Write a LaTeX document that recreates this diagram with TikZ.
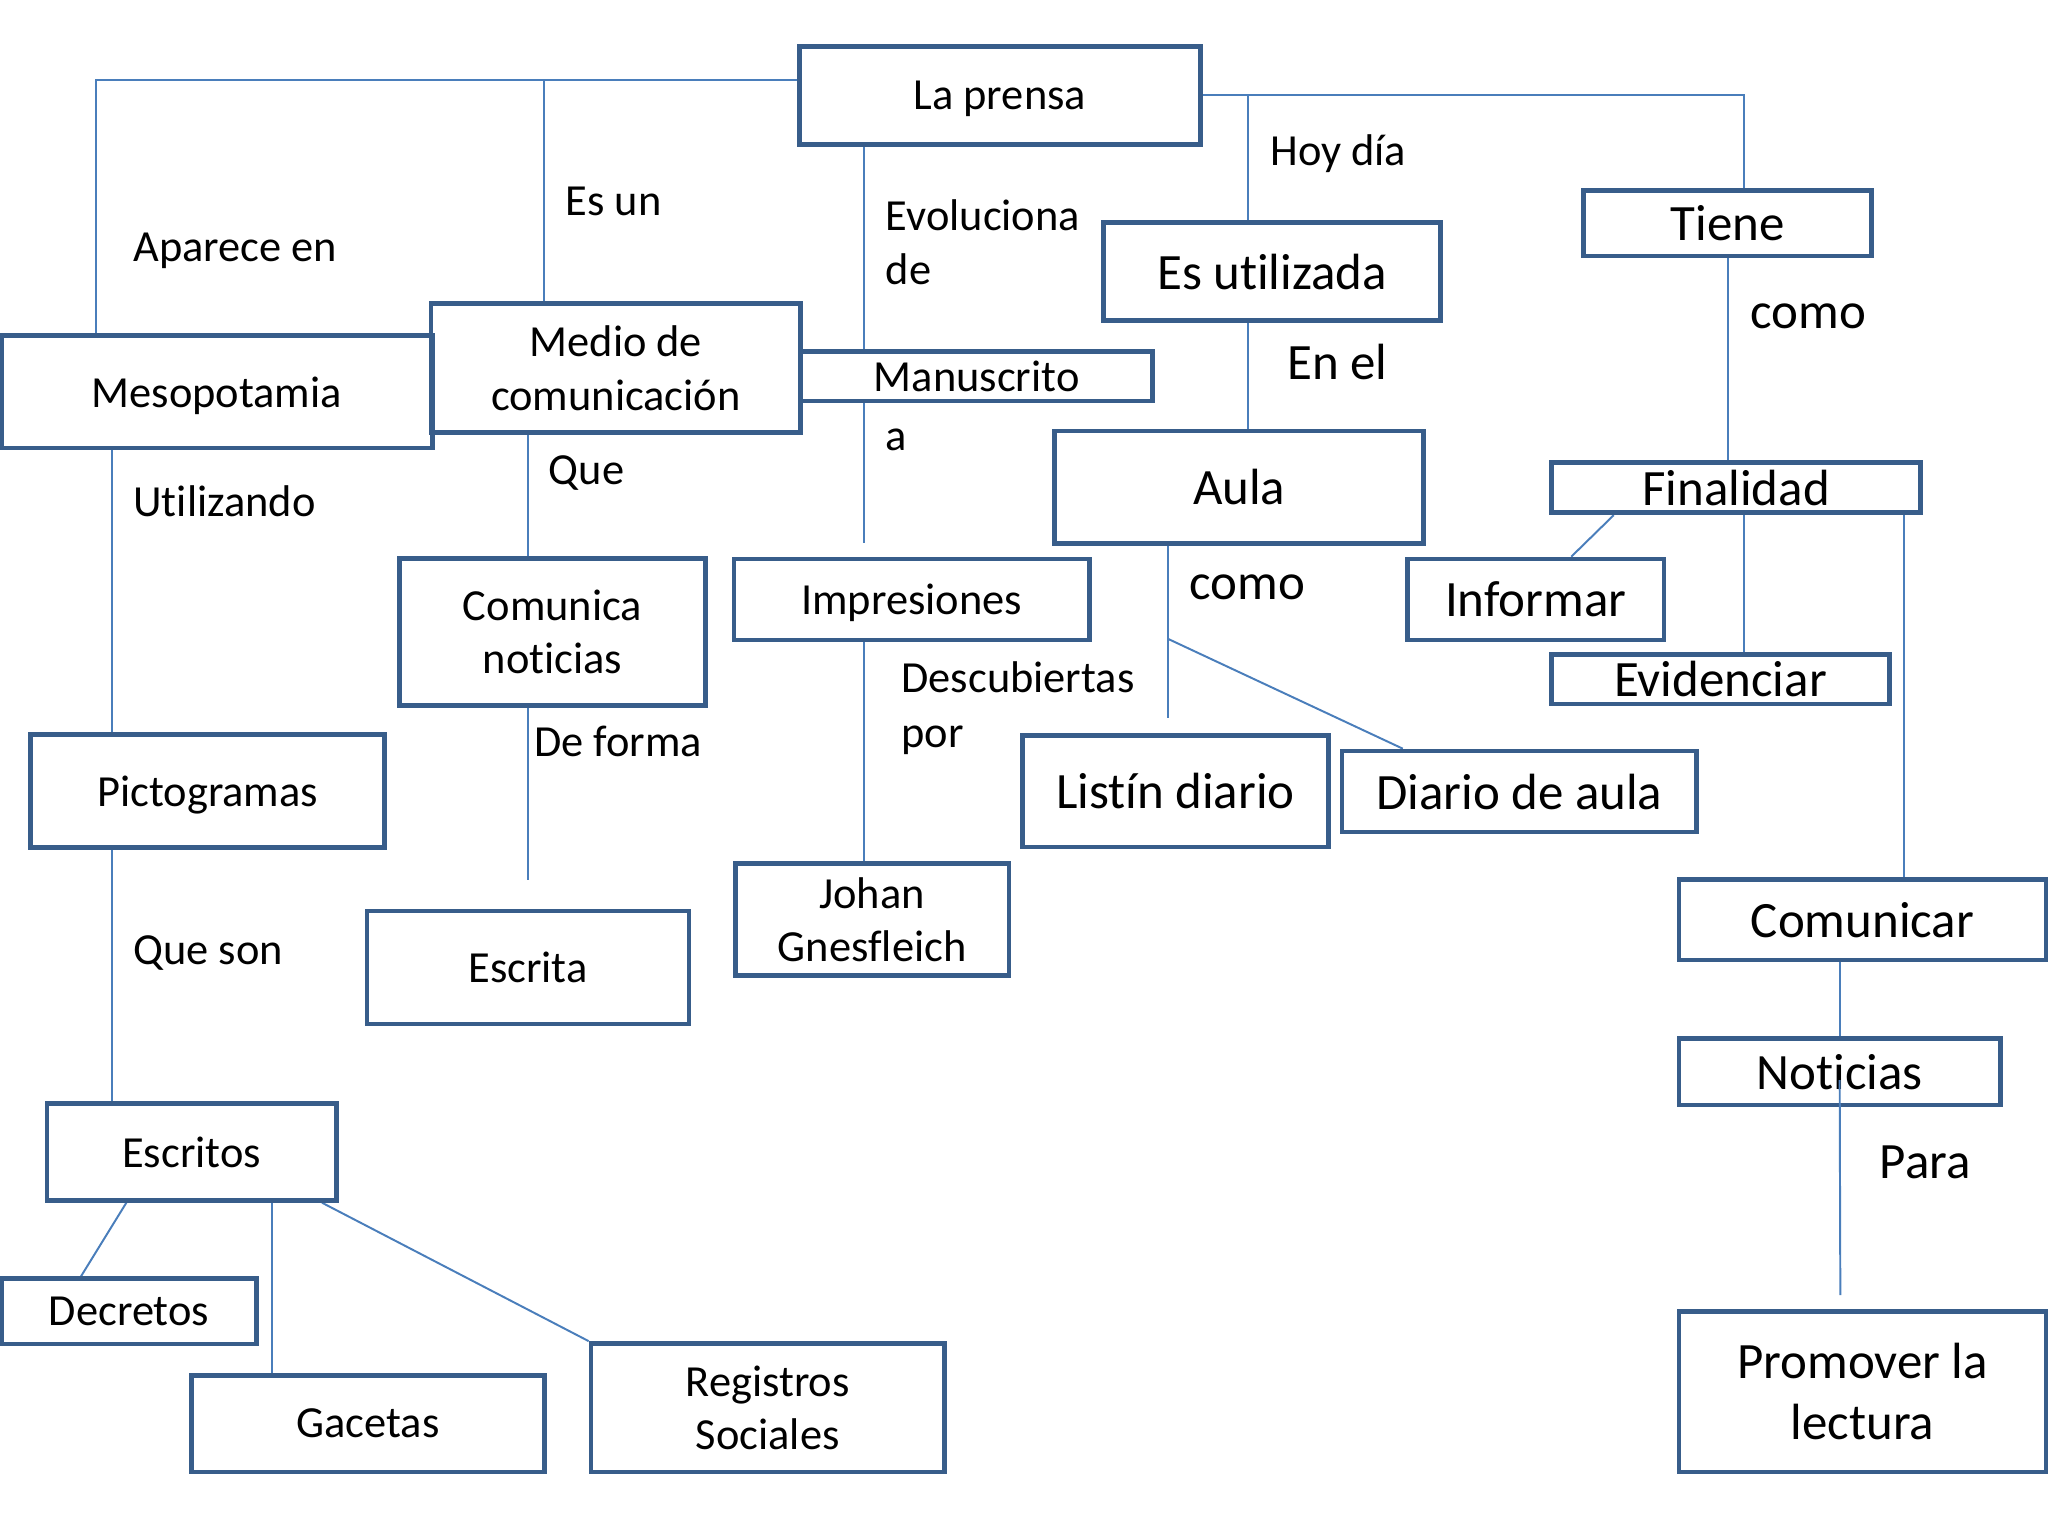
\documentclass[tikz,border=0pt]{standalone}
\usepackage{fontspec}
\setmainfont{Carlito}[Ligatures={NoCommon,NoContextual,NoRequired}, RawFeature={-liga;-calt;-clig}]
\usetikzlibrary{positioning}
\definecolor{boxblue}{HTML}{385D8A}
\definecolor{lineblue}{HTML}{4A7EBB}
\pgfdeclarelayer{bg}
\pgfsetlayers{bg,main}

\begin{document}
\begin{tikzpicture}[
                x=1pt, y=-1pt,
                box/.style={draw=boxblue, line width=3.6pt, inner sep=0pt, align=center, font=\fontsize{34}{41}\selectfont},
                bigbox/.style={box, font=\fontsize{39}{47}\selectfont},
                nodepth/.style={text depth=0pt},
                lbl/.style={inner sep=0pt, anchor=west, align=left, font=\fontsize{34}{42}\selectfont},
                biglbl/.style={lbl, font=\fontsize{39}{47}\selectfont},
                link/.style={draw=lineblue, line width=1.5pt}
            ]
                \useasboundingbox (0,0) rectangle (1568,1176);

                % cajas
                \node[box, nodepth, minimum width=307pt, minimum height=75pt] (prensa) at (765.5,73) {La prensa};
                \node[box, nodepth, minimum width=330pt, minimum height=86pt] (meso) at (166,300) {Mesopotamia};
                \node[box, minimum width=283pt, minimum height=98.5pt] (medio) at (471.5,281.75) {Medio de\\comunicación};
                \node[box, minimum width=269.5pt, minimum height=38pt] (manus) at (747.75,288) {Manuscrito};
                \node[box, minimum width=234pt, minimum height=112.5pt] (comunica) at (423,483.75) {Comunica\\noticias};
                \node[box, nodepth, minimum width=272pt, minimum height=62pt] (impres) at (698,459) {Impresiones};
                \node[box, nodepth, minimum width=271pt, minimum height=86pt] (picto) at (159,605.6) {Pictogramas};
                \node[box, minimum width=246.5pt, minimum height=86.5pt] (escrita) at (404.25,740.75) {Escrita};
                \node[box, minimum width=209.5pt, minimum height=86pt] (johan) at (667.75,704) {Johan\\Gnesfleich};
                \node[box, minimum width=221.5pt, minimum height=74pt] (escritos) at (146.75,882) {Escritos};
                \node[box, minimum width=195.5pt, minimum height=50pt] (decretos) at (98.75,1004) {Decretos};
                \node[box, minimum width=270.5pt, minimum height=74pt] (gacetas) at (281.75,1090) {Gacetas};
                \node[box, minimum width=270.5pt, minimum height=98.4pt] (registros) at (587.75,1077.8) {Registros\\Sociales};

                \node[bigbox, minimum width=258pt, minimum height=75pt] (esutil) at (974,208.1) {Es utilizada};
                \node[bigbox, minimum width=220.5pt, minimum height=50pt] (tiene) at (1322.75,171) {Tiene};
                \node[bigbox, minimum width=282.5pt, minimum height=86pt] (aula) at (948.75,373) {Aula};
                \node[bigbox, minimum width=282.5pt, minimum height=38.6pt] (finalidad) at (1329.25,373.3) {Finalidad};
                \node[bigbox, minimum width=196.5pt, minimum height=62pt] (informar) at (1175.75,459) {Informar};
                \node[bigbox, minimum width=258.5pt, minimum height=38pt] (evidenciar) at (1317.25,520) {Evidenciar};
                \node[bigbox, minimum width=234pt, minimum height=85.5pt] (listin) at (900,605.75) {Listín diario};
                \node[bigbox, minimum width=271.5pt, minimum height=62pt] (diarioaula) at (1163.25,606) {Diario de aula};
                \node[bigbox, minimum width=281pt, minimum height=61.5pt] (comunicar) at (1426,704.25) {Comunicar};
                \node[bigbox, minimum width=246pt, minimum height=51pt] (noticias) at (1408.5,820.5) {Noticias};
                \node[bigbox, minimum width=281pt, minimum height=123pt] (promover) at (1426,1065.5) {Promover la\\lectura};

                % etiquetas
                \node[lbl] (aparece) at (102,192) {Aparece en};
                \node[lbl] (esun) at (433,154) {Es un};
                \node[lbl] (evoluciona) at (678,185.5) {Evoluciona\\de};
                \node[lbl] (a) at (678,337) {a};
                \node[lbl] (que) at (420,362) {Que};
                \node[lbl] (utilizando) at (102,384) {Utilizando};
                \node[lbl] (descubiertas) at (690,542) {Descubiertas\\por};
                \node[lbl] (deforma) at (409,568) {De forma};
                \node[lbl] (queson) at (102,729.5) {Que son};
                \node[lbl] (hoydia) at (972.5,118) {Hoy día};
                \node[biglbl] (comotiene) at (1340,242) {como};
                \node[biglbl] (enel) at (985.5,277) {En el};
                \node[biglbl] (comoaula) at (910.5,450) {como};
                \node[biglbl] (para) at (1439,890) {Para};

                % puntos de union
                \coordinate (jmeso) at (73.5,61);
                \coordinate (jmedio) at (416.5,61);
                \coordinate (jtiene) at (1335.5,73);
                \coordinate (jutil) at (955.5,73);
                \coordinate (evol) at (661.5,416);
                \coordinate (utz) at (86,343);
                \coordinate (queend) at (404,673.5);
                \coordinate (aulaend) at (894,550);
                \coordinate (aulafork) at (894,489);
                \coordinate (paraend) at (1409,991.5);

                \begin{pgfonlayer}{bg}
                \draw[link] (prensa.west |- jmeso) -- (jmeso) -- (jmeso |- meso.north);
                \draw[link] (jmedio) -- (jmedio |- medio.north);
                \draw[link] (prensa.east |- jtiene) -- (jtiene) -- (jtiene |- tiene.north);
                \draw[link] (jutil) -- (jutil |- esutil.north);
                \draw[link] (esutil.south -| jutil) -- (aula.north -| jutil);
                \draw[link] (tiene.south) -- (tiene.south |- finalidad.north);
                \draw[link] (prensa.south -| evol) -- (manus.north -| evol);
                \draw[link] (manus.south -| evol) -- (evol);
                \draw[link] (impres.south -| evol) -- (johan.north -| evol);
                \draw[link] (meso.south -| utz) -- (picto.north -| utz);
                \draw[link] (picto.south -| utz) -- (escritos.north -| utz);
                \draw[link] (medio.south -| queend) -- (comunica.north -| queend);
                \draw[link] (comunica.south -| queend) -- (queend);
                \draw[link] ([xshift=-50pt]escritos.south) -- ([xshift=-36.75pt]decretos.north);
                \draw[link] ([xshift=61.25pt]escritos.south) -- ([xshift=61.25pt]escritos.south |- gacetas.north);
                \draw[link] ([xshift=99.75pt]escritos.south) -- (registros.north west);
                \draw[link] (aula.south -| aulaend) -- (aulaend);
                \draw[link] (aulafork) -- ([xshift=-89.25pt]diarioaula.north);
                \draw[link] ([xshift=-93.75pt]finalidad.south) -- ([xshift=27.25pt]informar.north);
                \draw[link] ([xshift=6.25pt]finalidad.south) -- ([xshift=6.25pt]finalidad.south |- evidenciar.north);
                \draw[link] ([xshift=128.75pt]finalidad.south) -- ([xshift=128.75pt]finalidad.south |- comunicar.north);
                \draw[link] (noticias.north |- comunicar.south) -- (noticias.north);
                \end{pgfonlayer}
                \draw[link] ([yshift=-6.5pt]noticias.center) -- (paraend);
            \end{tikzpicture}
\end{document}
